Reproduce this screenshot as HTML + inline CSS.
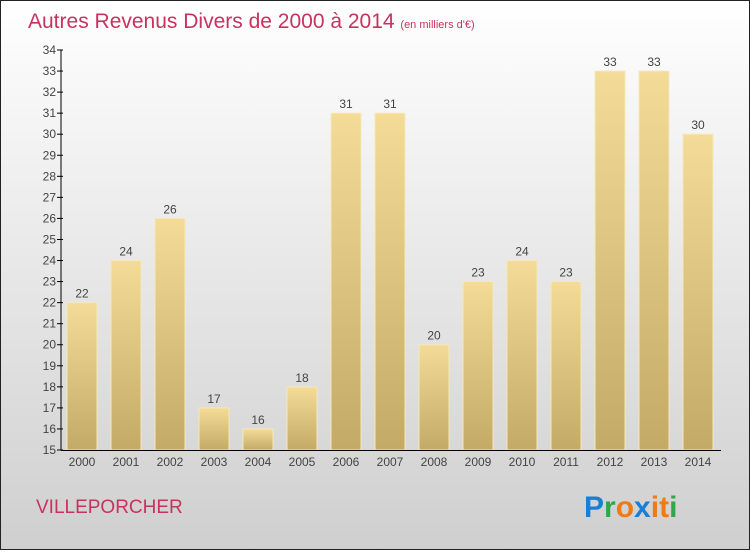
<!DOCTYPE html>
<html><head><meta charset="utf-8"><style>
html,body{margin:0;padding:0}
body{width:750px;height:550px;overflow:hidden;font-family:"Liberation Sans",sans-serif}
</style></head><body>
<svg width="750" height="550" xmlns="http://www.w3.org/2000/svg">
<defs>
<linearGradient id="bg" x1="0" y1="0" x2="0" y2="1"><stop offset="0" stop-color="#ffffff"/><stop offset="1" stop-color="#cfcfcf"/></linearGradient>
<linearGradient id="bar" x1="0" y1="0" x2="0" y2="1"><stop offset="0" stop-color="#f4dc98"/><stop offset="1" stop-color="#c3aa66"/></linearGradient>
</defs>
<rect x="0.5" y="0.5" width="749" height="549" fill="url(#bg)" stroke="#222"/>
<text x="28" y="28" font-size="21" fill="#c8325f">Autres Revenus Divers de 2000 à 2014 <tspan font-size="11">(en milliers d'€)</tspan></text>
<g id="yaxis"></g>
<g id="bars"></g>
<g id="xaxis"></g>
<text x="36" y="513" font-size="19" fill="#c8325f">VILLEPORCHER</text>
<g font-size="30" font-weight="bold" font-family="'Liberation Sans',sans-serif">
<text x="584" y="517"><tspan fill="#1a7fd4">P</tspan><tspan fill="#2ea84a">r</tspan><tspan fill="#f07a14">o</tspan><tspan fill="#1a7fd4">x</tspan><tspan fill="#f07a14">i</tspan><tspan fill="#f07a14">t</tspan><tspan fill="#2ea84a">i</tspan></text>
</g>
</svg>
<script>
const years=["2000","2001","2002","2003","2004","2005","2006","2007","2008","2009","2010","2011","2012","2013","2014"];
const values=[22,24,26,17,16,18,31,31,20,23,24,23,33,33,30];
const yTicks=[15,16,17,18,19,20,21,22,23,24,25,26,27,28,29,30,31,32,33,34];
const NS="http://www.w3.org/2000/svg";
const yMin=15,yMax=34,yBot=450,yTop=50;
function y(v){return yBot-(v-yMin)*(yBot-yTop)/(yMax-yMin);}
function x(i){return 82+i*44;}
function mk(t,a,p){const e=document.createElementNS(NS,t);for(const k in a)e.setAttribute(k,a[k]);p.appendChild(e);return e;}
const ya=document.getElementById('yaxis'),bg=document.getElementById('bars'),xa=document.getElementById('xaxis');
mk('line',{x1:61,y1:50,x2:61,y2:450,stroke:'#000'},ya);
yTicks.forEach(t=>{
 const l=mk('line',{x1:57,y1:y(t),x2:63,y2:y(t),stroke:'#000'},ya);
 
 
 const tx=mk('text',{x:56,y:y(t)+4,'text-anchor':'end','font-size':12,fill:'#444'},ya);
 tx.textContent=t;
 
 
});
values.forEach((v,i)=>{
 const r=mk('rect',{x:x(i)-15,y:y(v),width:30,height:yBot-y(v),fill:'url(#bar)',stroke:'#f7e8b8','stroke-width':1},bg);
 
 
 const lb=mk('text',{x:x(i),y:y(v)-5,'text-anchor':'middle','font-size':12,fill:'#444'},bg);
 lb.textContent=v;
 
 
 const xl=mk('text',{x:x(i),y:466,'text-anchor':'middle','font-size':12,fill:'#444'},xa);
 xl.textContent=years[i];
 
 
});
mk('line',{x1:61,y1:450.5,x2:721,y2:450.5,stroke:'#000'},xa);
</script>
</body></html>
